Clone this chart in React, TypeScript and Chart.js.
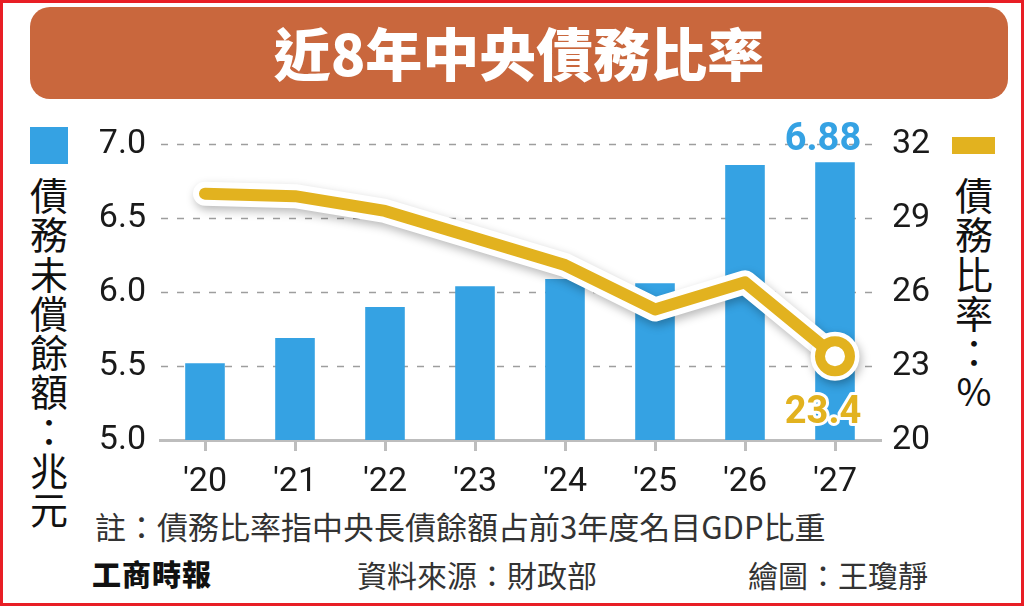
import React, { useEffect, useRef } from "react";
import { Chart, registerables } from "chart.js";

Chart.register(...registerables);

const categories = ["'20", "'21", "'22", "'23", "'24", "'25", "'26", "'27"];
const debtValues = [5.52, 5.69, 5.9, 6.04, 6.09, 6.06, 6.86, 6.88];
const ratioValues = [30.0, 29.9, 29.3, 28.2, 27.1, 25.3, 26.4, 23.4];
const leftTicks = [5.0, 5.5, 6.0, 6.5, 7.0];
const rightTicks = [20, 23, 26, 29, 32];

const titleText = "近8年中央債務比率";
const leftLegend = "債務未償餘額：兆元";
const rightLegend = "債務比率：%";
const noteText = "註：債務比率指中央長債餘額占前3年度名目GDP比重";
const logoText = "工商時報";
const sourceText = "資料來源：財政部";
const creditText = "繪圖：王瓊靜";

const BLUE = "#35A2E3";
const YELLOW = "#E2B21F";
const CJK = '"Noto Sans CJK TC", "Noto Sans", sans-serif';
const NUM = 'Roboto, "Liberation Sans", sans-serif';

const gridPlugin = {
  id: "dashedGrid",
  beforeDatasetsDraw(chart: any) {
    const ctx = chart.ctx;
    const ys = chart.scales.y;
    const area = chart.chartArea;
    ctx.save();
    ctx.strokeStyle = "#9E9E9E";
    ctx.lineWidth = 1.5;
    ctx.setLineDash([7, 9]);
    leftTicks.forEach((v) => {
      if (v === ys.min) return;
      const y = Math.round(ys.getPixelForValue(v)) + 0.5;
      ctx.beginPath();
      ctx.moveTo(area.left + 1, y);
      ctx.lineTo(area.right - 6, y);
      ctx.stroke();
    });
    ctx.restore();
  },
};

const shadowPlugin = {
  id: "haloShadow",
  beforeDatasetDraw(chart: any, args: any) {
    if (args.index === 1) {
      const ctx = chart.ctx;
      ctx.save();
      ctx.shadowColor = "rgba(0,0,0,0.28)";
      ctx.shadowBlur = 10;
      ctx.shadowOffsetX = 2;
      ctx.shadowOffsetY = 4;
    }
  },
  afterDatasetDraw(chart: any, args: any) {
    if (args.index === 1) chart.ctx.restore();
  },
};

const labelPlugin = {
  id: "valueLabels",
  afterDatasetsDraw(chart: any) {
    const ctx = chart.ctx;
    const last = debtValues.length - 1;
    const bar = chart.getDatasetMeta(0).data[last];
    const pt = chart.getDatasetMeta(2).data[last];
    ctx.save();
    ctx.font = `bold 38px ${NUM}`;
    ctx.textAlign = "center";
    ctx.textBaseline = "middle";
    ctx.fillStyle = BLUE;
    ctx.fillText(debtValues[last].toFixed(2), bar.x - 12, bar.y - 22);
    const t = ratioValues[last].toFixed(1);
    ctx.lineJoin = "round";
    ctx.lineWidth = 6;
    ctx.strokeStyle = "#fff";
    ctx.strokeText(t, pt.x - 12, pt.y + 57);
    ctx.fillStyle = YELLOW;
    ctx.fillText(t, pt.x - 12, pt.y + 57);
    ctx.restore();
  },
};

function VerticalText({ text, left, top }: { text: string; left: number; top: number }) {
  return (
    <div lang="zh-Hant" style={{ position: "absolute", left, top, width: 38 }}>
      {Array.from(text).map((c, i) => (
        <div
          key={i}
          style={{
            height: 39.3,
            lineHeight: "39.3px",
            fontSize: 38,
            textAlign: "center",
            color: "#111",
            fontFamily: CJK,
          }}
        >
          {c}
        </div>
      ))}
    </div>
  );
}

export default function App() {
  const ref = useRef<HTMLCanvasElement>(null);

  useEffect(() => {
    if (!ref.current) return;
    const lastIdx = ratioValues.length - 1;
    const chart = new Chart(ref.current, {
      data: {
        labels: categories,
        datasets: [
          {
            type: "bar",
            data: debtValues,
            yAxisID: "y",
            backgroundColor: BLUE,
            barPercentage: 0.44,
            categoryPercentage: 1,
            order: 3,
          },
          {
            type: "line",
            data: ratioValues,
            yAxisID: "y2",
            borderColor: "#ffffff",
            borderWidth: 24,
            borderJoinStyle: "round",
            borderCapStyle: "round",
            tension: 0,
            pointRadius: (c: any) => (c.dataIndex === lastIdx ? 15 : 0),
            pointBorderWidth: 19,
            pointBorderColor: "#ffffff",
            pointBackgroundColor: "#ffffff",
            order: 2,
          },
          {
            type: "line",
            data: ratioValues,
            yAxisID: "y2",
            borderColor: YELLOW,
            borderWidth: 12,
            borderJoinStyle: "round",
            borderCapStyle: "round",
            tension: 0,
            pointRadius: (c: any) => (c.dataIndex === lastIdx ? 15 : 0),
            pointBorderWidth: 10,
            pointBorderColor: YELLOW,
            pointBackgroundColor: "#ffffff",
            order: 1,
          },
        ] as any,
      },
      options: {
        animation: false,
        responsive: true,
        maintainAspectRatio: false,
        layout: { padding: { top: 33, left: 0, right: 0, bottom: 0 } },
        plugins: { legend: { display: false }, tooltip: { enabled: false } },
        scales: {
          x: {
            offset: true,
            grid: {
              offset: false,
              drawOnChartArea: false,
              drawTicks: true,
              tickLength: 11,
              color: "#BDBDBD",
              lineWidth: 3,
            },
            border: { display: true, color: "#BDBDBD", width: 3 },
            ticks: { color: "#1a1a1a", font: { family: NUM, size: 34 }, padding: 11 },
            afterFit: (s: any) => {
              s.height = 60;
            },
          },
          y: {
            position: "left",
            min: 5,
            max: 7,
            afterBuildTicks: (s: any) => {
              s.ticks = leftTicks.map((v) => ({ value: v }));
            },
            grid: { display: false, drawTicks: false },
            border: { display: false },
            ticks: {
              color: "#1a1a1a",
              font: { family: NUM, size: 34 },
              padding: 14,
              callback: (v: any) => Number(v).toFixed(1),
            },
            afterFit: (s: any) => {
              s.width = 80;
            },
          },
          y2: {
            position: "right",
            min: 20,
            max: 32,
            afterBuildTicks: (s: any) => {
              s.ticks = rightTicks.map((v) => ({ value: v }));
            },
            grid: { display: false, drawTicks: false },
            border: { display: false },
            ticks: {
              color: "#1a1a1a",
              font: { family: NUM, size: 34 },
              padding: 12,
            },
            afterFit: (s: any) => {
              s.width = 100;
            },
          },
        },
      } as any,
      plugins: [gridPlugin, shadowPlugin, labelPlugin],
    });
    return () => chart.destroy();
  }, []);

  return (
    <div
      lang="zh-Hant"
      style={{
        position: "absolute",
        left: 0,
        top: 0,
        width: 1024,
        height: 606,
        boxSizing: "border-box",
        border: "3px solid #E81E25",
        background: "#fff",
        overflow: "hidden",
        fontFamily: CJK,
      }}
    >
      <div
        style={{
          position: "absolute",
          left: 27,
          top: 4,
          width: 978,
          height: 92,
          borderRadius: 20,
          background: "#C9673D",
          color: "#fff",
          textAlign: "center",
          lineHeight: "88px",
          fontSize: 57,
          fontWeight: 900,
          fontFamily: CJK,
        }}
      >
        {titleText}
      </div>

      <div style={{ position: "absolute", left: 27, top: 124, width: 38, height: 37, background: BLUE }} />
      <VerticalText text={leftLegend} left={27} top={171} />

      <div style={{ position: "absolute", left: 949, top: 134, width: 43, height: 17, background: YELLOW }} />
      <VerticalText text={rightLegend} left={952} top={171} />

      <div style={{ position: "absolute", left: 77, top: 107, width: 900, height: 390 }}>
        <canvas ref={ref} />
      </div>

      <div
        style={{
          position: "absolute",
          left: 92,
          top: 506,
          fontSize: 31,
          lineHeight: "34px",
          color: "#333",
          whiteSpace: "nowrap",
        }}
      >
        {noteText}
      </div>
      <div
        style={{
          position: "absolute",
          left: 89,
          top: 553,
          fontSize: 29,
          lineHeight: "34px",
          fontWeight: 900,
          color: "#111",
          letterSpacing: 1,
          whiteSpace: "nowrap",
        }}
      >
        {logoText}
      </div>
      <div
        style={{
          position: "absolute",
          left: 354,
          top: 554,
          fontSize: 30,
          lineHeight: "34px",
          color: "#333",
          whiteSpace: "nowrap",
        }}
      >
        {sourceText}
      </div>
      <div
        style={{
          position: "absolute",
          left: 745,
          top: 554,
          fontSize: 30,
          lineHeight: "34px",
          color: "#333",
          whiteSpace: "nowrap",
        }}
      >
        {creditText}
      </div>
    </div>
  );
}
